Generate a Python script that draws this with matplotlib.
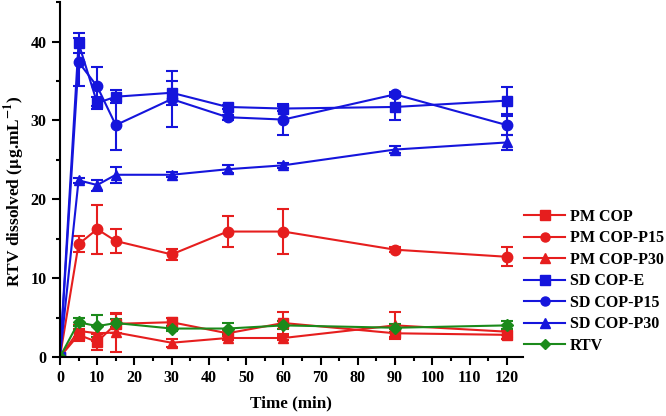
import numpy as np
import matplotlib
matplotlib.use('Agg')
import matplotlib.pyplot as plt
from matplotlib.ticker import MultipleLocator
from matplotlib.lines import Line2D

plt.rcParams['font.family'] = ['Liberation Serif', 'DejaVu Serif']
plt.rcParams['font.weight'] = 'bold'
plt.rcParams['mathtext.fontset'] = 'stix'

time = [0, 5, 10, 15, 30, 45, 60, 90, 120]

pm_cop = [0, 2.8, 1.9, 4.2, 4.4, 3.0, 4.3, 3.0, 2.8]
pm_cop_err = [0, 0.8, 1.0, 1.2, 0.5, 0.4, 1.4, 0.5, 0.5]
pm_p15 = [0, 14.3, 16.2, 14.7, 13.0, 15.9, 15.9, 13.6, 12.7]
pm_p15_err = [0, 1.0, 3.1, 1.5, 0.7, 2.0, 2.9, 0.3, 1.2]
pm_p30 = [0, 3.3, 3.0, 3.1, 1.8, 2.4, 2.4, 4.0, 3.2]
pm_p30_err = [0, 0.8, 1.0, 2.5, 0.5, 0.3, 0.3, 1.7, 0.4]
sd_e = [0, 39.8, 32.2, 33.0, 33.5, 31.7, 31.5, 31.7, 32.5]
sd_e_err = [0, 1.3, 0.7, 0.8, 1.5, 0.3, 0.3, 1.7, 1.7]
sd_p15 = [0, 37.4, 34.3, 29.4, 32.7, 30.4, 30.1, 33.3, 29.4]
sd_p15_err = [0, 3.0, 2.5, 3.2, 3.6, 0.3, 2.0, 0.3, 1.2]
sd_p30 = [0, 22.4, 21.8, 23.1, 23.1, 23.8, 24.3, 26.3, 27.2]
sd_p30_err = [0, 0.3, 0.7, 1.0, 0.3, 0.5, 0.3, 0.4, 1.0]
rtv = [0, 4.4, 3.9, 4.3, 3.6, 3.6, 4.0, 3.7, 4.0]
rtv_err = [0, 0.5, 1.4, 0.5, 0.3, 0.7, 0.5, 0.5, 0.5]

RED = '#e61e1e'
BLUE = '#1515dc'
GREEN = '#1b8a1b'

series = [
    ('PM COP', pm_cop, pm_cop_err, RED, 's'),
    ('PM COP-P15', pm_p15, pm_p15_err, RED, 'o'),
    ('PM COP-P30', pm_p30, pm_p30_err, RED, '^'),
    ('SD COP-E', sd_e, sd_e_err, BLUE, 's'),
    ('SD COP-P15', sd_p15, sd_p15_err, BLUE, 'o'),
    ('SD COP-P30', sd_p30, sd_p30_err, BLUE, '^'),
    ('RTV', rtv, rtv_err, GREEN, 'D'),
]

fig = plt.figure(figsize=(6.66, 4.16), dpi=100)
ax = fig.add_axes([0.09, 0.142, 0.695, 0.853])

handles = []
for name, y, err, col, mk in series:
    ms = 6.5 if mk == 'D' else 7.5
    ax.errorbar(time, y, yerr=err, color=col, marker=mk, markersize=ms,
                linewidth=1.5, elinewidth=1.5, capsize=4, capthick=1.5)
    handles.append(Line2D([], [], color=col, marker=mk, markersize=ms - 1,
                          linewidth=1.5, label=name))

ax.set_xlim(0, 124.3)
ax.set_ylim(0, 45)
ax.xaxis.set_major_locator(MultipleLocator(10))
ax.xaxis.set_minor_locator(MultipleLocator(5))
ax.yaxis.set_major_locator(MultipleLocator(10))
ax.yaxis.set_minor_locator(MultipleLocator(5))
ax.spines['top'].set_visible(False)
ax.spines['right'].set_visible(False)
for s in ('left', 'bottom'):
    ax.spines[s].set_linewidth(1.5)
ax.tick_params(which='major', direction='out', length=6, width=1.5, labelsize=11.5)
ax.tick_params(which='minor', direction='out', length=3, width=1.5)
for lab in ax.get_xticklabels() + ax.get_yticklabels():
    lab.set_fontweight('bold')

ax.set_xlabel('Time (min)', fontsize=12.3, fontweight='bold', labelpad=7)
ax.set_ylabel(r'RTV dissolved ($\mathbf{\mu}$g.mL$^{\mathbf{-1}}$)', fontsize=12.5,
              fontweight='bold')
ax.yaxis.set_label_coords(-0.072, 0.468)

leg = fig.legend(handles=handles, loc='upper left', bbox_to_anchor=(0.777, 0.513),
                 frameon=False, fontsize=11.5, handlelength=2.6, handletextpad=0.3,
                 labelspacing=0.34, borderaxespad=0)
for t in leg.get_texts():
    t.set_fontweight('bold')

fig.savefig('out.png', dpi=100)
